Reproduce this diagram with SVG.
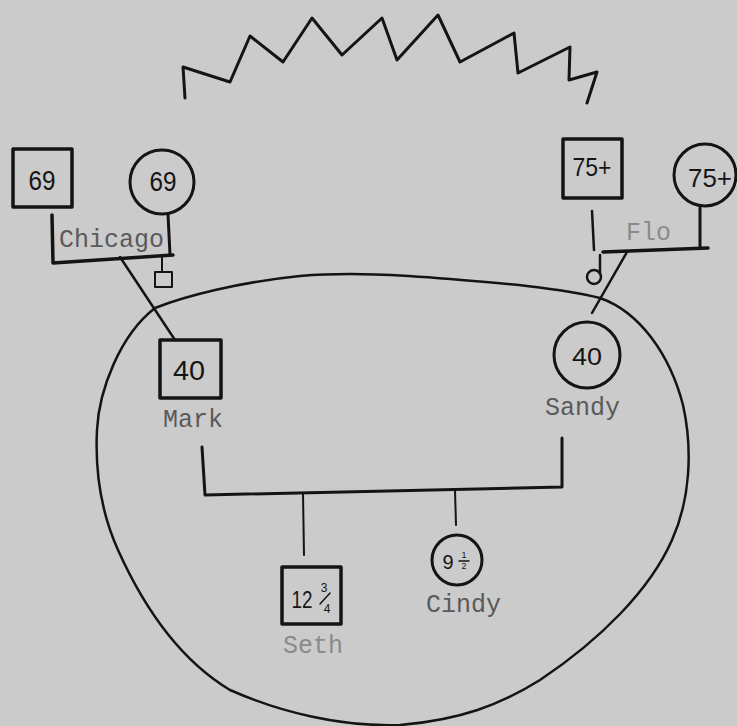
<svg xmlns="http://www.w3.org/2000/svg" width="737" height="726" viewBox="0 0 737 726">
  <style>
    .ink { fill: none; stroke: #141414; stroke-linecap: round; stroke-linejoin: round; }
    .box { fill: none; stroke: #141414; stroke-width: 3.5; stroke-linejoin: round; }
    .ring { fill: none; stroke: #141414; stroke-width: 3; }
    .age { font-family: "Liberation Sans", "DejaVu Sans", sans-serif; fill: #161616; text-anchor: middle; }
    .name { font-family: "Liberation Mono", "DejaVu Sans Mono", monospace; font-size: 25px; fill: #5a5a5a; }
    .faint { fill: #8a8a8a; }
  </style>

  <rect width="737" height="726" fill="#cbcbcb"/>

  <!-- jagged hair line across the top -->
  <path class="ink" stroke-width="3" d="M185,98 L183,67 L230,82 L250,36 L283,62 L312,18 L342,55 L382,18 L397,60 L438,15 L460,62 L514,33 L518,73 L570,47 L569,80 L597,72 L587,103"/>

  <!-- household boundary -->
  <path class="ink" stroke-width="2.5" d="M155,308 C185,296 240,282 300,276 C350,272 400,275 450,279 C500,283 560,288 600,298 C640,312 670,355 683,405 C693,450 690,500 672,540 C650,590 600,640 540,680 C500,705 460,720 400,725 C340,727 280,712 230,690 C180,660 145,610 118,550 C100,510 95,470 97,430 C99,390 120,335 155,308 Z"/>

  <g id="connectors">
    <!-- paternal grandparents -->
    <path class="ink" stroke-width="3.5" d="M52,215 L53,263 L173,255"/>
    <path class="ink" stroke-width="3" d="M168,214 L170,255"/>
    <path class="ink" stroke-width="2" d="M162,256 L162,272"/>
    <path class="ink" stroke-width="2.5" d="M120,257 L175,340"/>
    <!-- maternal grandparents -->
    <path class="ink" stroke-width="2.5" d="M592,211 L594,250"/>
    <path class="ink" stroke-width="3" d="M700,208 L700,248"/>
    <path class="ink" stroke-width="3.5" d="M603,252 L708,248"/>
    <path class="ink" stroke-width="2.5" d="M600,255 L600,274"/>
    <path class="ink" stroke-width="2.5" d="M627,252 L592,313"/>
    <!-- parents to children -->
    <path class="ink" stroke-width="3" d="M202,447 L205,495 L562,487 L562,438"/>
    <path class="ink" stroke-width="2" d="M303,493 L304,555"/>
    <path class="ink" stroke-width="2" d="M455,490 L456,525"/>
  </g>

  <g id="grandfather-chicago">
    <rect class="box" x="13" y="149" width="59" height="58"/>
    <text class="age" x="42" y="190" font-size="28" textLength="27" lengthAdjust="spacingAndGlyphs">69</text>
  </g>

  <g id="grandmother-chicago">
    <circle class="ring" cx="162" cy="182" r="32"/>
    <text class="age" x="163" y="191" font-size="28" textLength="27" lengthAdjust="spacingAndGlyphs">69</text>
  </g>

  <g id="chicago-label">
    <text class="name" x="59" y="247">Chicago</text>
  </g>

  <g id="chicago-sibling">
    <rect class="ink" stroke-width="2" x="155" y="272" width="17" height="15"/>
  </g>

  <g id="grandfather-flo">
    <rect class="box" x="563" y="139" width="59" height="59"/>
    <text class="age" x="592" y="176" font-size="26" textLength="39" lengthAdjust="spacingAndGlyphs">75+</text>
  </g>

  <g id="grandmother-flo">
    <circle class="ring" cx="705" cy="175" r="31"/>
    <text class="age" x="710" y="187" font-size="26" textLength="44" lengthAdjust="spacingAndGlyphs">75+</text>
  </g>

  <g id="flo-label">
    <text class="name faint" x="626" y="240">Flo</text>
  </g>

  <g id="flo-sibling">
    <circle class="ink" stroke-width="2.5" cx="594" cy="277" r="7"/>
  </g>

  <g id="mark">
    <rect class="box" stroke-width="4" x="160" y="340" width="61" height="58"/>
    <text class="age" x="189" y="380" font-size="28" textLength="32" lengthAdjust="spacingAndGlyphs">40</text>
    <text class="name" x="163" y="427">Mark</text>
  </g>

  <g id="sandy">
    <circle class="ring" cx="587" cy="355" r="33"/>
    <text class="age" x="587" y="365" font-size="23" textLength="30" lengthAdjust="spacingAndGlyphs">40</text>
    <text class="name" x="545" y="415">Sandy</text>
  </g>

  <g id="seth">
    <rect class="box" x="282" y="567" width="59" height="57"/>
    <text class="age" x="302" y="608" font-size="24" textLength="21" lengthAdjust="spacingAndGlyphs">12</text>
    <text class="age" x="324" y="592" font-size="12">3</text>
    <path class="ink" stroke-width="1.5" d="M320,604 L330,593"/>
    <text class="age" x="327" y="613" font-size="12">4</text>
    <text class="name faint" x="283" y="653">Seth</text>
  </g>

  <g id="cindy">
    <circle class="ring" cx="457" cy="560" r="25"/>
    <text class="age" x="448" y="569" font-size="20">9</text>
    <text class="age" x="464" y="558" font-size="9">1</text>
    <path class="ink" stroke-width="1.5" d="M459,561 L469,561"/>
    <text class="age" x="464" y="569" font-size="9">2</text>
    <text class="name" x="426" y="612">Cindy</text>
  </g>
</svg>
